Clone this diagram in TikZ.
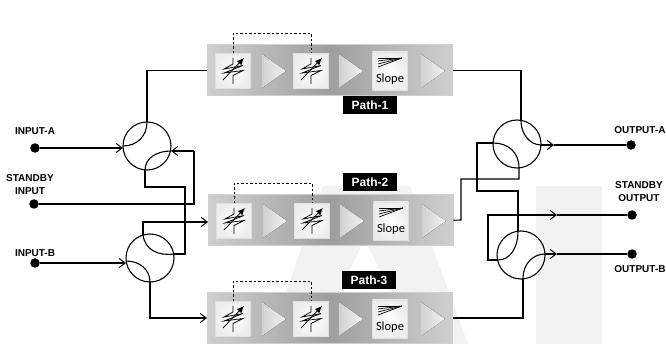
\documentclass[tikz,border=0pt]{standalone}
\usepackage{fontspec}
\setmainfont{Liberation Sans}
\newfontfamily\slopefont{Carlito}
\usetikzlibrary{arrows.meta,calc}
\definecolor{wm}{HTML}{F2F2F2}
\definecolor{panelEdge}{HTML}{CFCFCF}
\tikzset{
  wire/.style={draw=black,line width=1.1pt},
  feed/.style={wire,-{Straight Barb[length=6pt,width=9pt,line width=1pt]}},
  pt/.style={circle,fill=black,inner sep=0pt,minimum size=9.5pt},
  coupler/.style={circle,draw=black,line width=1.1pt,minimum size=48pt,inner sep=0pt},
  lab/.style={font=\bfseries\fontsize{10}{13}\selectfont,align=center,inner sep=0pt},
  pathlab/.style={fill=black,text=white,font=\bfseries\fontsize{12}{12}\selectfont,minimum width=54pt,minimum height=18pt,inner sep=0pt},
  panel/.style={rectangle,draw=panelEdge,line width=1.5pt,left color=panelEdge,right color=panelEdge,middle color=black!38,minimum width=244pt,minimum height=51pt,inner sep=0pt,anchor=north west},
  tile/.style={rectangle,draw=black!12,line width=0.5pt,inner color=white,outer color=black!7,minimum width=35pt,minimum height=35pt,inner sep=0pt},
  dashwire/.style={draw=black,line width=0.8pt,dash pattern=on 2.5pt off 2pt},
  icon/.style={draw=black,line width=0.75pt},
}
\newcommand{\tri}[2]{\fill[left color=black!18,right color=black!5] (#1,#2-17) -- (#1+24,#2) -- (#1,#2+17) -- cycle;}
\newcommand{\atten}[1]{%
  \draw[icon] ($(#1)+(0,-13)$) -- ++(0,6) -- ++(-9,5) -- ++(19,-3.5) -- ++(-19,7.5) -- ++(19,-2.5) -- ++(-10,5) -- ++(0,8.5);
  \draw[icon,-{Latex[length=7pt,width=6pt]}] ($(#1)+(-10,9)$) -- ($(#1)+(11,-13)$);}
\newcommand{\slopeicon}[1]{%
  \draw[black,line width=0.7pt] ($(#1)+(-12,-13)$) -- ($(#1)+(12,-13)$);
  \draw[black,line width=0.7pt] ($(#1)+(-12,-10)$) -- ($(#1)+(12,-13)$);
  \draw[black,line width=0.7pt] ($(#1)+(-12,-7)$) -- ($(#1)+(12,-13)$);
  \draw[black,line width=0.7pt] ($(#1)+(-12,-4)$) -- ($(#1)+(12,-13)$);
  \node[inner sep=0pt,font=\slopefont\fontsize{12.5}{12}\selectfont] at ($(#1)+(0,8)$) {Slope};}
% #1 name, #2 x, #3 y
\newcommand{\pathpanel}[3]{%
  \node[panel] (#1) at (#2,#3) {};
  \node[tile] (#1t1) at (#2+26,#3+27) {};
  \node[tile] (#1t2) at (#2+104,#3+27) {};
  \node[tile,minimum height=38pt] (#1t3) at (#2+183,#3+27) {};
  \tri{#2+55}{#3+27}\tri{#2+132}{#3+27}\tri{#2+214}{#3+27}
  \atten{#1t1}\atten{#1t2}\slopeicon{#1t3}
  \draw[dashwire] (#1t1.north) -- ++(0,-20) -| (#1t2.north);
}
\begin{document}
\begin{tikzpicture}[x=1pt,y=-1pt]
\useasboundingbox (0,0) rectangle (666,344);
% watermark
\fill[wm] (536,186) rectangle (602,344);
\fill[wm] (323,186) -- (410,186) -- (468,344) -- (420,344) -- (364,240) -- (315,344) -- (268,344) -- cycle;
\pathpanel{pa}{207}{44}
\pathpanel{pb}{208}{194}
\pathpanel{pc}{207}{292}
\node[pathlab] (la) at (370,105) {Path-1};
\node[pathlab] (lb) at (370,182) {Path-2};
\node[pathlab] (lc) at (369,280) {Path-3};
% couplers
\node[coupler] (ca) at (147,146) {};
\node[coupler] (cb) at (150,258) {};
\node[coupler] (cc) at (517,144) {};
\node[coupler] (cd) at (521,255) {};
% terminals
\node[pt] (ia) at (35,148) {};
\node[pt] (is) at (34,204) {};
\node[pt] (ib) at (35,263) {};
\node[pt] (oa) at (631,145) {};
\node[pt] (os) at (632,215) {};
\node[pt] (ob) at (632,254) {};
\node[lab] at (35,131) {INPUT-A};
\node[lab] at (30,185) {STANDBY\\INPUT};
\node[lab] at (35,253) {INPUT-B};
\node[lab] at (640,130) {OUTPUT-A};
\node[lab] at (639,191.5) {STANDBY\\OUTPUT};
\node[lab] at (640,269) {OUTPUT-B};
% left wires
\draw[feed] (ia) -- (123,148);
\draw[wire] (123,146) .. controls (137,146) and (147,136) .. (147,122);
\draw[wire] (147,122) |- (pa.west);
\draw[wire] (is) -| (194,151);
\draw[feed] (194,151) -- (171,151);
\draw[wire] (171,151) .. controls (157,151) and (145,158) .. (145,170);
\draw[wire] (145,170) -- (145,187) -| (185,254) -- (174,254);
\draw[wire] (174,254) .. controls (158,256) and (145,250) .. (143,235);
\draw[wire] (143,235) -- (143,222) -- (175,222);
\draw[feed] (175,222) -- (pb.west |- 175,222);
\draw[feed] (ib) -- (126,263);
\draw[wire] (126,261) .. controls (140,261) and (150,270) .. (150,282);
\draw[wire] (150,282) -- (150,318) -- (180,318);
\draw[feed] (180,318) -- (pc.west |- 180,318);
% right wires
\draw[wire] (pa.east) -| (521,121);
\draw[wire] (521,121) .. controls (521,134) and (530,145) .. (541,145);
\draw[feed] (541,145) -- (554,145);
\draw[wire] (554,145) -- (oa);
\draw[wire] (493,143) .. controls (508,143) and (519,152) .. (519,168);
\draw[wire] (519,168) -- (519,179) -| (461,220) -- (pb.east);
\draw[wire] (493,143) -- (477,143) |- (518,191) -- (518,231);
\draw[wire] (518,231) .. controls (518,248) and (510,260) .. (498,260);
\draw[wire] (498,260) -- (488,260) |- (545,215);
\draw[feed] (545,215) -- (557,215);
\draw[wire] (557,215) -- (os);
\draw[wire] (523,278) .. controls (523,264) and (533,254) .. (545,254);
\draw[feed] (545,254) -- (557,254);
\draw[wire] (557,254) -- (ob);
\draw[wire] (523,278) |- (pc.east |- 452,318);
\end{tikzpicture}
\end{document}
